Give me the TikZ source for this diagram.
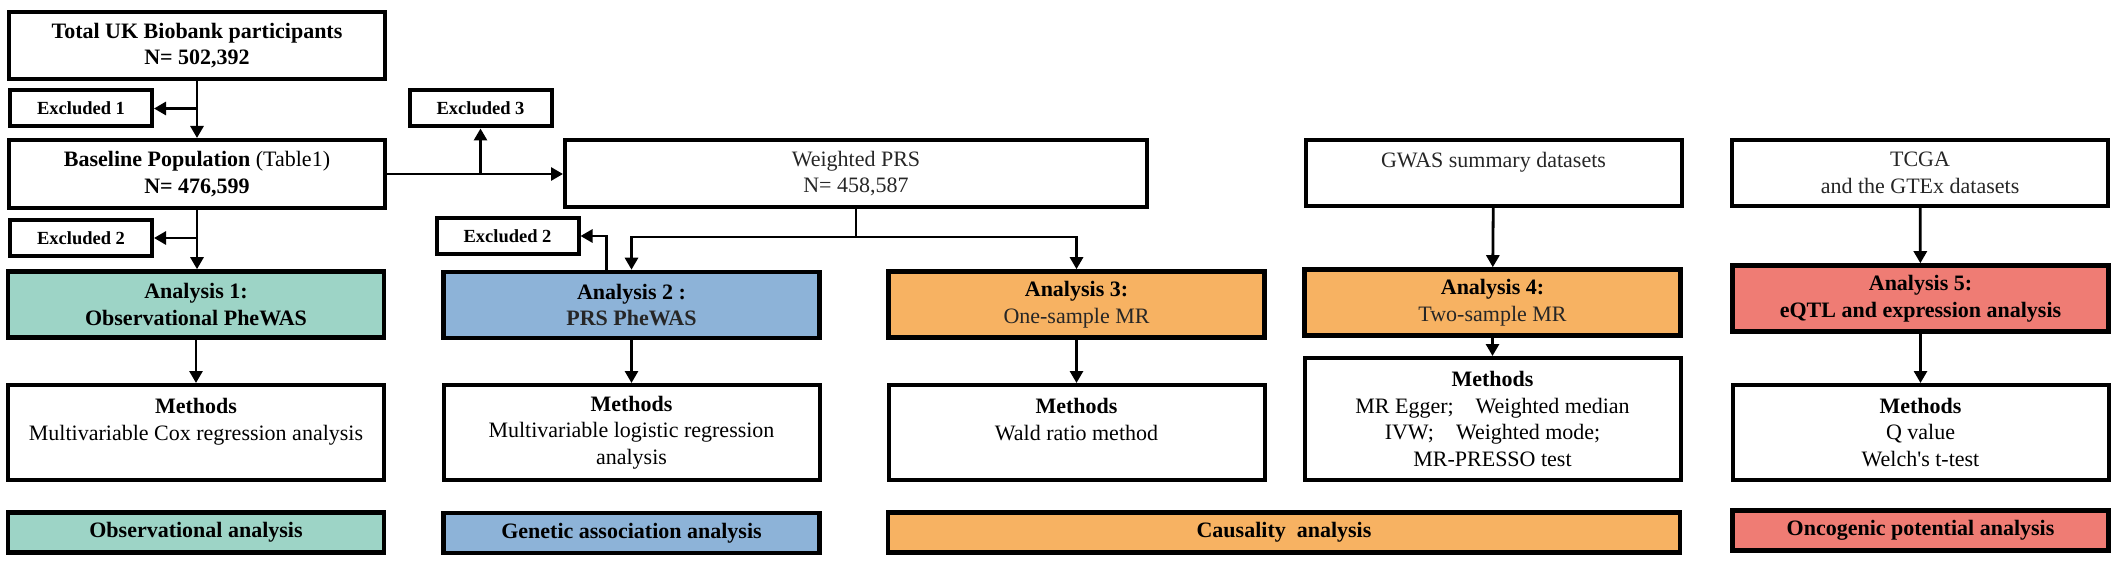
\documentclass[tikz,border=0pt]{standalone}
\usepackage{fontspec}
\setmainfont{Liberation Serif}
\usepackage{xcolor}
\usetikzlibrary{arrows.meta,positioning}

\definecolor{obsgreen}{HTML}{9DD4C6}
\definecolor{genblue}{HTML}{8DB3D8}
\definecolor{causorange}{HTML}{F7B262}
\definecolor{oncored}{HTML}{EF7C74}
\definecolor{softblack}{HTML}{262626}

\begin{document}
\begin{tikzpicture}
      [ x=1pt, y=-1pt,
        box/.style={draw, line width=4pt, align=center, inner sep=0pt,
          minimum width=376pt, font=\fontsize{22}{26.5}\selectfont},
        exclbox/.style={draw, line width=4pt, inner sep=0pt,
          minimum width=142pt, minimum height=36pt,
          font=\fontsize{18.5}{22}\selectfont\bfseries},
        anbox/.style={box, line width=4.6pt, minimum height=66pt},
        methbox/.style={box, minimum height=95pt},
        tagbox/.style={box, line width=4.6pt, minimum height=40pt,
          font=\fontsize{22}{26.5}\selectfont\bfseries},
        arr/.style={-{Triangle[length=12pt,width=13pt]}, line width=2.8pt}
      ]
      \useasboundingbox (0,0) rectangle (2124,564);

      % cohort
      \node[box, minimum height=67pt]  (total)  at (197,45.5)
        {\textbf{Total UK Biobank participants}\\ \textbf{N= 502,392}};
      \node[exclbox]                   (excl1)  at (81,108.5)  {Excluded 1};
      \node[box, minimum height=68pt]  (base)   at (197,174)
        {\textbf{Baseline Population} (Table1)\\ \textbf{N= 476,599}};
      \node[exclbox]                   (excl2a) at (81,238)    {Excluded 2};
      \node[exclbox]                   (excl3)  at (480.5,108.5) {Excluded 3};
      \node[box, minimum width=582pt, minimum height=67pt, text=softblack]
                                       (prs)    at (856,173.5) {Weighted PRS\\ N= 458,587};
      \node[exclbox]                   (excl2b) at (507.5,236) {Excluded 2};
      \node[box, minimum height=66pt, text=softblack]
                                       (gwas)   at (1493.5,173) {GWAS summary datasets\\ ~};
      \node[box, minimum height=66pt, text=softblack]
                                       (tcga)   at (1920,173)   {TCGA\\ and the GTEx datasets};

      % analyses
      \node[anbox, fill=obsgreen]   (an1) at (196,304.5)
        {\textbf{Analysis 1:}\\ \textbf{Observational PheWAS}};
      \node[anbox, fill=genblue]    (an2) at (631.5,305)
        {\textbf{Analysis 2 :}\\ \textcolor{softblack}{\textbf{PRS PheWAS}}};
      \node[anbox, fill=causorange] (an3) at (1076.5,304.5)
        {\textbf{Analysis 3:}\\ \textcolor{softblack}{One-sample MR}};
      \node[anbox, fill=causorange] (an4) at (1492.5,302.5)
        {\textbf{Analysis 4:}\\ \textcolor{softblack}{Two-sample MR}};
      \node[anbox, fill=oncored]    (an5) at (1920.5,298.5)
        {\textbf{Analysis 5:}\\ \textbf{eQTL and expression analysis}};

      % methods
      \node[methbox] (m1) at (196,432.5)
        {\textbf{Methods}\\ Multivariable Cox regression analysis\\ ~};
      \node[methbox] (m2) at (631.5,432.5)
        {\textbf{Methods}\\ Multivariable logistic regression\\ analysis};
      \node[methbox] (m3) at (1076.5,432.5)
        {\textbf{Methods}\\ Wald ratio method\\ ~};
      \node[methbox, minimum height=122pt] (m4) at (1492.5,419)
        {\textbf{Methods}\\ MR Egger;\quad Weighted median\\
         IVW;\quad Weighted mode;\\ MR-PRESSO test};
      \node[methbox] (m5) at (1920.5,432.5)
        {\textbf{Methods}\\ Q value\\ Welch\textquotesingle s t-test};

      % categories
      \node[tagbox, fill=obsgreen]   (obs)  at (196,532.5)   {Observational analysis};
      \node[tagbox, fill=genblue]    (gen)  at (631.5,533)   {Genetic association analysis};
      \node[tagbox, fill=causorange, minimum width=792pt]
                                     (caus) at (1284,532.5)  {Causality\ \ analysis};
      \node[tagbox, fill=oncored]    (onco) at (1920.5,530.5) {Oncogenic potential analysis};

      \coordinate (split) at (856,237);

      \draw[arr] (total) -- (base);
      \draw[arr] (excl1.east -| total.south) -- (excl1.east);
      \draw[arr] (base.south) -- (base.south |- an1.north);
      \draw[arr] (excl2a.east -| base.south) -- (excl2a.east);
      \draw[arr] (base.east) -- (base.east -| prs.west);
      \draw[arr] (excl3.south |- base.east) -- (excl3.south);
      \draw[line width=2.8pt] (prs.south) -- (split);
      \draw[arr] (split) -| (an2.north);
      \draw[arr] (split) -| (an3.north);
      \draw[arr] ([xshift=-25pt]an2.north) |- (excl2b.east);
      \draw[arr] (gwas) -- (an4);
      \draw[arr] (tcga) -- (an5);
      \draw[arr] (an1) -- (m1);
      \draw[arr] (an2) -- (m2);
      \draw[arr] (an3) -- (m3);
      \draw[arr] (an4) -- (m4);
      \draw[arr] (an5) -- (m5);
\end{tikzpicture}
\end{document}
